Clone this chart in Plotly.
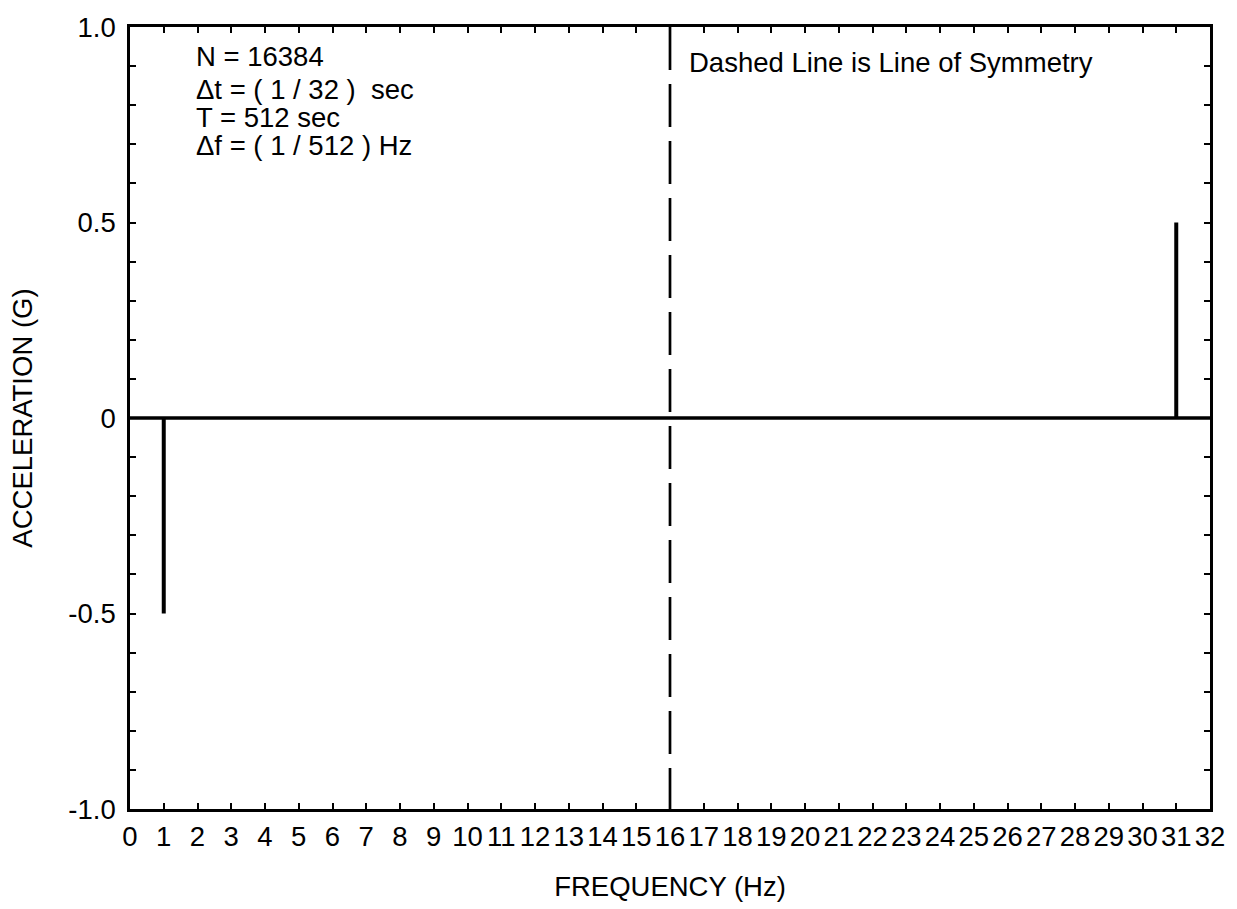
import plotly.graph_objects as go

# Two-sided spectrum of a sampled sine record
freq_hz = [1, 31]
accel_g = [-0.5, 0.5]
f_min, f_max = 0, 32
symmetry_hz = 16

x_ticks = list(range(0, 33))
y_ticks = [round(-1.0 + 0.1 * i, 1) for i in range(21)]
y_labels = {1.0: "1.0", 0.5: "0.5", 0.0: "0", -0.5: "-0.5", -1.0: "-1.0"}

info_lines = ["N = 16384", "Δt = ( 1 / 32 )  sec", "T = 512 sec", "Δf = ( 1 / 512 ) Hz"]
info_y = [0.925, 0.841, 0.768, 0.697]

FONT = "Liberation Sans, Arial, sans-serif"
FS = 27.5

fig = go.Figure()

# zero baseline
fig.add_trace(go.Scatter(x=[f_min, f_max], y=[0, 0], mode="lines",
                         line=dict(color="black", width=3.5), hoverinfo="skip"))

# spectral lines as stems
sx, sy = [], []
for f, a in zip(freq_hz, accel_g):
    sx += [f, f, None]
    sy += [0, a, None]
fig.add_trace(go.Scatter(x=sx, y=sy, mode="lines",
                         line=dict(color="black", width=4), hoverinfo="skip"))

# line of symmetry
fig.add_trace(go.Scatter(x=[symmetry_hz, symmetry_hz], y=[1.0, -1.0], mode="lines",
                         line=dict(color="black", width=2.7, dash="43px,14px"),
                         hoverinfo="skip"))

for txt, yy in zip(info_lines, info_y):
    fig.add_annotation(x=1.9, y=yy, xref="x", yref="y", text=txt, showarrow=False,
                       xanchor="left", yanchor="middle",
                       font=dict(family=FONT, size=FS, color="black"))

fig.add_annotation(x=16.5, y=0.908, xref="x", yref="y", text="Dashed Line is Line of Symmetry",
                   showarrow=False, xanchor="left", yanchor="middle",
                   font=dict(family=FONT, size=FS, color="black"))

fig.update_layout(
    width=1237, height=909,
    margin=dict(l=130, r=25, t=20, b=96),
    plot_bgcolor="white", paper_bgcolor="white",
    showlegend=False,
    font=dict(family=FONT, size=FS, color="black"),
)

fig.update_xaxes(
    range=[f_min, f_max], tickvals=x_ticks, ticktext=[str(v) for v in x_ticks],
    ticks="inside", ticklen=6, tickwidth=2, tickcolor="black",
    showline=True, linecolor="black", linewidth=2.5, mirror="ticks",
    showgrid=False, zeroline=False,
    tickfont=dict(family=FONT, size=FS), ticklabelstandoff=1,
    title=dict(text="FREQUENCY (Hz)", font=dict(family=FONT, size=FS), standoff=26),
)

fig.update_yaxes(
    range=[-1.0, 1.0], tickvals=y_ticks,
    ticktext=[y_labels.get(v, "") for v in y_ticks],
    ticks="inside", ticklen=6, tickwidth=2, tickcolor="black",
    showline=True, linecolor="black", linewidth=2.5, mirror="ticks",
    showgrid=False, zeroline=False,
    tickfont=dict(family=FONT, size=FS), ticklabelstandoff=6,
    title=dict(text="ACCELERATION (G)", font=dict(family=FONT, size=FS), standoff=28),
)

fig.write_html("out.html")
